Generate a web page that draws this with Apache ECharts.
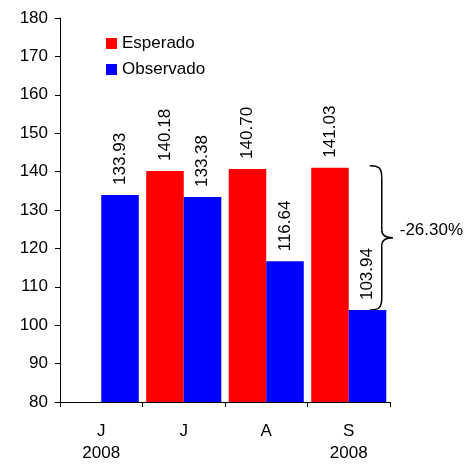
<!DOCTYPE html>
<html>
<head>
<meta charset="utf-8">
<script src="https://cdn.jsdelivr.net/npm/echarts@6/dist/echarts.min.js"></script>
<style>
  html, body { margin: 0; padding: 0; background: #fff; }
  #chart { width: 471px; height: 464px; }
</style>
</head>
<body>
<div id="chart"></div>
<script>
// datos
var categorias = ["J\n2008", "J", "A", "S\n2008"];
var esperado = [null, 140.18, 140.70, 141.03];
var observado = [133.93, 133.38, 116.64, 103.94];
var yTicks = { min: 80, max: 180, interval: 10 };

var font = "Liberation Sans, Arial, sans-serif";
var chart = echarts.init(document.getElementById("chart"), null, { renderer: "canvas" });

var etiqueta = {
  show: true,
  position: "top",
  rotate: 90,
  align: "left",
  verticalAlign: "middle",
  distance: 10,
  fontSize: 17,
  fontFamily: font,
  color: "#000",
  formatter: function (p) { return p.value == null ? "" : p.value.toFixed(2); }
};

chart.setOption({
  animation: false,
  grid: { left: 60, right: 81, top: 18, bottom: 59 },
  legend: {
    orient: "vertical",
    left: 101,
    top: 30,
    icon: "rect",
    itemWidth: 11,
    itemHeight: 11,
    itemGap: 9,
    textStyle: { fontSize: 17, fontFamily: font, color: "#000" },
    data: ["Esperado", "Observado"]
  },
  xAxis: {
    type: "category",
    data: categorias,
    axisLine: { lineStyle: { color: "#000", width: 1 } },
    axisTick: { show: true, length: 5, lineStyle: { color: "#000" } },
    axisLabel: { fontSize: 17, fontFamily: font, color: "#000", margin: 18, lineHeight: 22 }
  },
  yAxis: {
    type: "value",
    min: yTicks.min,
    max: yTicks.max,
    interval: yTicks.interval,
    splitLine: { show: false },
    axisLine: { show: true, lineStyle: { color: "#000", width: 1 } },
    axisTick: { show: true, length: 5, lineStyle: { color: "#000" } },
    axisLabel: { fontSize: 17, fontFamily: font, color: "#000", margin: 12 }
  },
  series: [
    {
      name: "Esperado", type: "bar", data: esperado,
      barGap: "0%", barCategoryGap: "9%",
      itemStyle: { color: "#ff0000" }, label: etiqueta
    },
    {
      name: "Observado", type: "bar", data: observado,
      itemStyle: { color: "#0000ff" }, label: etiqueta
    }
  ]
});

// llave con la variación entre esperado y observado del último mes
var n = categorias.length - 1;
var pTop = chart.convertToPixel({ seriesIndex: 0 }, [n, esperado[n]]);
var pBot = chart.convertToPixel({ seriesIndex: 1 }, [n, observado[n]]);
var cx = chart.convertToPixel({ xAxisIndex: 0 }, n);
var x0 = cx + 21, xm = cx + 33, xt = cx + 44;
var yT = pTop[1] - 2, yB = pBot[1], yM = (yT + yB) / 2;
var trazo = { stroke: "#000", lineWidth: 1.5, fill: null };

function curva(x1, y1, c1x, c1y, c2x, c2y, x2, y2) {
  return {
    type: "bezierCurve",
    shape: { x1: x1, y1: y1, cpx1: c1x, cpy1: c1y, cpx2: c2x, cpy2: c2y, x2: x2, y2: y2 },
    style: trazo
  };
}
function linea(x1, y1, x2, y2) {
  return { type: "line", shape: { x1: x1, y1: y1, x2: x2, y2: y2 }, style: trazo };
}

var pct = ((observado[n] - esperado[n]) / esperado[n] * 100).toFixed(2) + "%";

chart.setOption({
  graphic: [
    curva(x0, yT, x0 + 9, yT, xm, yT + 2, xm, yT + 12),
    linea(xm, yT + 12, xm, yM - 8),
    curva(xm, yM - 8, xm, yM - 2, xm + 4, yM, xt, yM),
    curva(xt, yM, xm + 4, yM, xm, yM + 2, xm, yM + 8),
    linea(xm, yM + 8, xm, yB - 12),
    curva(xm, yB - 12, xm, yB - 2, x0 + 9, yB, x0, yB),
    {
      type: "text",
      x: xt + 7,
      y: yM - 8,
      style: { text: pct, fontSize: 17, fontFamily: font, fill: "#000", verticalAlign: "middle" }
    }
  ]
});
</script>
</body>
</html>
